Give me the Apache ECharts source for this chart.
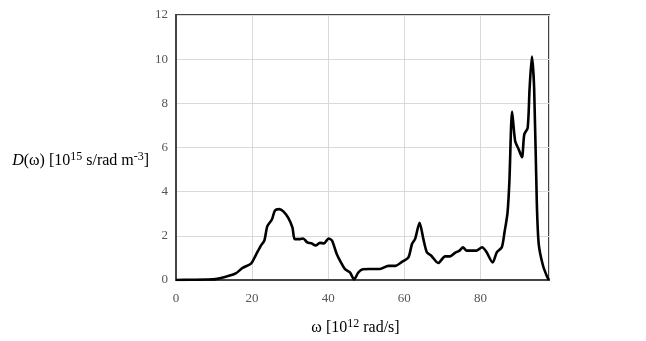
<!DOCTYPE html>
<html>
<head>
<meta charset="utf-8">
<script src="https://cdn.jsdelivr.net/npm/echarts@6/dist/echarts.min.js"></script>
<style>
  html, body { margin: 0; padding: 0; background: #fff; }
  #chart { width: 646px; height: 341px; }
</style>
</head>
<body>
<div id="chart"></div>
<script>
// omega in 10^12 rad/s, D(omega) in 10^15 s/rad m^-3
const omega = [
  0, 4, 8, 10.4, 13.1, 15.7, 17.5, 19.7, 21, 22.3, 23.2, 24, 25.2, 26, 27.1, 28.2,
  29.5, 30.6, 31.2, 32.6, 33.4, 34.5, 35.6, 36.7, 37.8, 38.9, 40.1, 41, 42.2, 43.3,
  44.4, 45.7, 46.8, 47.9, 49.1, 50.8, 53.6, 55.8, 57.6, 59.3, 61.1, 62, 62.8, 64,
  65, 65.9, 67, 68.9, 70.7, 72, 73.3, 74.5, 75.4, 76.4, 79, 80.4, 81.5, 83.2, 84.3,
  85.6, 86.3, 87.1, 87.6, 88.3, 89.1, 90, 90.9, 91.5, 92.4, 92.9, 93.5, 94.1, 94.8,
  95.3, 96.4, 97.5, 98
];
const dos = [
  0, 0.01, 0.02, 0.04, 0.15, 0.3, 0.55, 0.74, 1.14, 1.56, 1.78, 2.44, 2.74, 3.15, 3.21, 3.11,
  2.81, 2.37, 1.85, 1.85, 1.88, 1.7, 1.66, 1.56, 1.68, 1.66, 1.88, 1.78, 1.19, 0.81,
  0.49, 0.34, 0.03, 0.34, 0.49, 0.5, 0.5, 0.64, 0.64, 0.81, 1.04, 1.63, 1.85, 2.59,
  1.85, 1.26, 1.11, 0.77, 1.07, 1.07, 1.23, 1.33, 1.48, 1.33, 1.33, 1.48, 1.29, 0.79, 1.26,
  1.48, 2.15, 3.04, 4.5, 7.63, 6.3, 5.93, 5.56, 6.59, 6.89, 8.67, 10.12, 8.67, 3.48,
  1.63, 0.67, 0.15, 0
];

const chart = echarts.init(document.getElementById('chart'));
const serif = '"Liberation Serif", "DejaVu Serif", serif';

chart.setOption({
  animation: false,
  backgroundColor: '#fff',
  grid: {
    left: 176, right: 97, top: 15, bottom: 56,
    show: true, borderColor: '#444', borderWidth: 2
  },
  xAxis: {
    type: 'value',
    min: 0, max: 98, interval: 20,
    name: '{t|ω [10}{s|12}{t| rad/s]}',
    nameLocation: 'middle',
    nameGap: 38,
    nameTextStyle: {
      padding: [0, 14, 0, 0],
      rich: {
        t: { fontFamily: serif, fontSize: 16, color: '#000' },
        s: { fontFamily: serif, fontSize: 12, color: '#000', padding: [0, 0, 8, 0] }
      }
    },
    axisLine: { show: true, lineStyle: { color: '#444', width: 2 } },
    axisTick: { show: false },
    axisLabel: { fontFamily: serif, fontSize: 13, color: '#555', margin: 12, showMaxLabel: false },
    splitLine: { show: true, lineStyle: { color: '#d9d9d9', width: 1 } }
  },
  yAxis: {
    type: 'value',
    min: 0, max: 12, interval: 2,
    name: '{i|D}{t|(ω) [10}{s|15}{t| s/rad m}{s|-3}{t|]}',
    nameLocation: 'middle',
    nameRotate: 0,
    nameGap: 23,
    nameTextStyle: {
      align: 'right',
      padding: [26, 0, 0, 0],
      rich: {
        i: { fontFamily: serif, fontSize: 16, fontStyle: 'italic', color: '#000' },
        t: { fontFamily: serif, fontSize: 16, color: '#000' },
        s: { fontFamily: serif, fontSize: 12, color: '#000', padding: [0, 0, 8, 0] }
      }
    },
    axisLine: { show: true, lineStyle: { color: '#444', width: 2 } },
    axisTick: { show: false },
    axisLabel: { fontFamily: serif, fontSize: 13, color: '#555', margin: 8 },
    splitLine: { show: true, lineStyle: { color: '#d9d9d9', width: 1 } }
  },
  series: [{
    type: 'line',
    data: omega.map((w, i) => [w, dos[i]]),
    smooth: 0.25,
    showSymbol: false,
    lineStyle: { color: '#000', width: 2.6 }
  }]
});
</script>
</body>
</html>
